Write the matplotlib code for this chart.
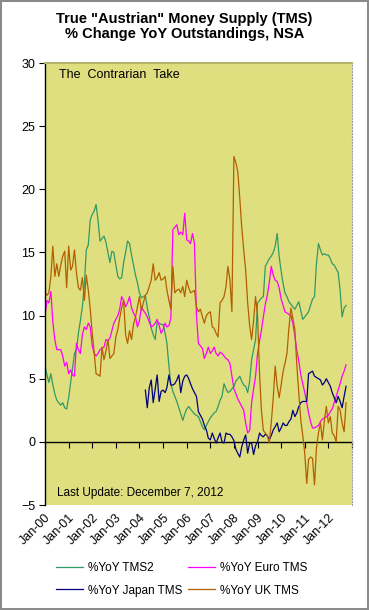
import numpy as np
import pandas as pd
import matplotlib
matplotlib.use('Agg')
import matplotlib.pyplot as plt
import matplotlib.dates as mdates
from matplotlib.patches import Rectangle

plt.rcParams['font.family'] = ['Liberation Sans', 'DejaVu Sans']

# monthly % change YoY, Jan 2000 - Oct 2012
start = '2000-01-01'
tms2 = [6.0, 5.3, 4.7, 5.4, 4.5, 3.8, 3.3, 3.1, 2.9, 3.1, 2.7, 2.6,
        3.5, 4.7, 5.8, 7.0, 7.3, 8.6, 9.6, 10.7, 12.5, 15.2, 15.6, 17.6,
        18.0, 18.3, 18.8, 17.5, 15.9, 16.1, 16.3, 15.8, 15.0, 14.2, 15.1, 15.0,
        14.0, 13.1, 12.9, 13.0, 14.2, 15.0, 15.9, 15.7, 14.8, 14.0, 13.2, 12.6,
        11.8, 11.4, 11.5, 11.6, 10.6, 9.9, 9.0, 8.5, 8.1, 9.5, 9.4, 9.3,
        9.3, 8.6, 7.8, 6.0, 4.6, 4.0, 3.6, 3.2, 2.7, 2.2, 1.7, 2.2,
        2.6, 2.8, 2.6, 2.4, 2.2, 2.1, 2.0, 1.6, 1.2, 0.95, 1.3, 1.6,
        1.9, 2.1, 2.3, 2.4, 2.8, 3.3, 3.6, 4.6, 4.2, 3.9, 4.0, 4.2,
        4.4, 4.8, 5.0, 5.2, 4.8, 4.5, 4.4, 3.9, 4.8, 6.5, 7.3, 8.1,
        11.0, 11.2, 11.4, 11.5, 13.9, 14.2, 14.5, 14.7, 15.0, 15.5, 16.5, 14.7,
        13.5, 12.5, 11.8, 11.5, 11.1, 10.9, 10.7, 10.5, 10.8, 11.1, 10.4, 9.7,
        9.9, 10.1, 10.3, 10.8, 11.3, 11.5, 14.1, 15.7, 15.2, 14.8, 14.9, 14.8,
        14.8, 14.5, 14.1, 14.0, 13.7, 13.4, 12.0, 9.9, 10.6, 10.8]

euro = [10.0, 11.2, 11.0, 11.9, 9.5, 8.1, 7.3, 7.3, 7.3, 6.8, 6.0, 6.3,
        5.4, 5.7, 5.3, 5.2, 7.8, 7.3, 7.0, 8.5, 9.1, 8.9, 9.4, 9.1,
        7.6, 7.0, 6.8, 7.0, 7.3, 7.4, 7.5, 8.1, 8.0, 8.2, 8.8, 9.4,
        9.7, 10.0, 10.5, 11.5, 11.2, 10.7, 11.0, 11.5, 10.6, 10.2, 9.9, 9.1,
        9.6, 10.7, 10.4, 10.2, 9.9, 9.5, 9.1, 9.2, 9.4, 9.7, 9.2, 8.6,
        8.9, 9.4, 9.1, 9.2, 9.8, 16.8, 17.0, 17.2, 16.4, 16.6, 16.4, 18.1,
        16.0, 15.9, 15.7, 16.5, 15.7, 10.0, 7.8, 7.6, 7.4, 6.6, 7.0, 7.5,
        7.0, 7.2, 7.5, 7.0, 6.8, 7.1, 7.0, 6.8, 6.6, 6.5, 6.2, 5.2,
        4.2, 3.8, 3.4, 3.1, 2.8, 2.5, 1.5, 0.7, 0.9, 3.1, 4.2, 5.2,
        7.0, 8.0, 8.8, 9.9, 10.9, 11.6, 12.6, 13.9, 13.2, 12.8, 12.7, 12.2,
        11.3, 10.8, 10.3, 10.2, 10.1, 10.0, 9.4, 8.4, 7.2, 6.4, 5.3, 4.6,
        3.9, 3.1, 2.3, 1.6, 1.1, 1.1, 1.2, 1.3, 1.6, 1.8, 1.9, 2.0,
        2.1, 2.4, 2.6, 3.1, 3.6, 4.1, 4.6, 5.2, 5.6, 6.1]

# Japan series starts in April 2004
japan_start = '2004-04-01'
japan = [4.1, 2.7, 4.3, 4.9, 3.1, 4.2, 5.3, 3.2, 4.0,
         4.1, 3.9, 4.3, 5.3, 4.5, 4.5, 4.6, 4.9, 5.3, 3.9, 4.8, 5.2,
         5.3, 5.0, 4.6, 4.2, 3.9, 3.6, 2.4, 2.1, 1.8, 1.3, 0.95, 0.3,
         0.15, 0.7, 0.3, -0.1, 0.3, 0.7, 0.0, -0.1, 0.7, 0.6, 0.6, 0.4,
         0.1, -0.6, -0.9, -1.2, -0.4, 0.15, 0.55, -0.9, -0.1, -0.1, -1.0, -0.3,
         0.0, 0.7, 0.5, 0.4, 0.6, 0.5, 0.15, 0.5, 0.95, 1.2, 1.5, 0.8,
         1.1, 1.5, 1.3, 1.3, 1.6, 1.8, 2.5, 2.0, 2.3, 2.8, 3.1, 3.2,
         3.2, 3.2, 5.4, 5.5, 5.6, 5.2, 5.1, 5.0, 4.9, 4.5, 4.7, 5.0,
         4.7, 4.4, 3.9, 3.5, 3.1, 3.6, 3.2, 2.7, 3.6, 4.4]

uk = [11.9, 11.6, 11.8, 13.1, 15.5, 13.1, 14.1, 13.1, 14.0, 14.7, 15.1, 12.2,
      15.5, 13.6, 13.9, 15.2, 13.4, 12.2, 12.0, 13.0, 11.2, 13.2, 12.0, 10.5,
      8.6, 7.0, 5.4, 5.3, 5.2, 7.5, 6.5, 7.2, 8.1, 6.6, 6.8, 7.0,
      8.3, 8.9, 9.8, 10.6, 11.2, 8.5, 7.8, 8.8, 8.1, 9.3, 9.9, 10.7,
      11.5, 10.4, 11.0, 11.6, 11.8, 12.3, 12.8, 14.1, 12.8, 13.0, 13.4, 12.8,
      12.9, 13.1, 12.0, 11.2, 10.5, 13.9, 11.8, 12.0, 12.1, 11.8, 12.3, 11.5,
      12.8, 12.2, 11.8, 11.9, 12.0, 10.7, 10.3, 10.5, 9.9, 9.4, 10.0, 10.2,
      10.3, 9.1, 9.0, 8.6, 8.3, 11.0, 11.2, 11.5, 12.3, 13.9, 12.8, 10.3,
      22.6, 22.1, 21.4, 19.3, 17.0, 15.2, 13.6, 11.0, 9.2, 8.1, 9.6, 11.5,
      10.0, 5.4, 2.5, 0.9, 0.7, 0.5, -0.1, 1.5, 3.5, 6.0, 4.4, 3.5,
      4.5, 5.6, 6.2, 7.0, 9.0, 10.6, 9.8, 8.9, 6.0, 3.9, 1.7, 0.5,
      -0.9, -3.3, -1.4, -1.2, -1.3, -3.4, -0.5, 0.7, 1.5, 0.15, 1.7, 2.8,
      1.5, 2.0, 0.7, 0.5, 0.0, 2.8, 2.5, 1.5, 0.8, 3.1]

dates = pd.date_range(start, periods=len(tms2), freq='MS')
japan_dates = pd.date_range(japan_start, periods=len(japan), freq='MS')
years = pd.date_range('2000-01-01', '2013-01-01', freq='YS')

fig = plt.figure(figsize=(3.69, 6.10), dpi=100)
fig.patches.append(Rectangle((0, 0), 1, 1, transform=fig.transFigure, fill=False,
                             edgecolor='#8a8a8a', lw=2.9))

fig.text(0.5, 1 - 12/610, 'True "Austrian" Money Supply (TMS)\n% Change YoY Outstandings, NSA',
         ha='center', va='top', fontsize=10.5, fontweight='bold', linespacing=1.05)

ax = fig.add_axes([45/369, 1 - 505/610, 307/369, 442/610])
ax.set_facecolor('#dfdf80')

l1, = ax.plot(dates, tms2, color='#339966', lw=0.9, label='%YoY TMS2')
l2, = ax.plot(dates, euro, color='#ff00ff', lw=0.9, label='%YoY Euro TMS')
l3, = ax.plot(japan_dates, japan, color='#000080', lw=0.9, label='%YoY Japan TMS')
l4, = ax.plot(dates, uk, color='#b35f00', lw=0.9, label='%YoY UK TMS')

ax.set_ylim(-5, 30)
ax.set_yticks(range(-5, 31, 5))
ax.set_xlim(years[0], years[-1])
ax.tick_params(axis='y', direction='out', length=4, width=0.8, pad=3, labelsize=9)

# date labels along the bottom, axis line with ticks at zero
ax.set_xticks(years[:-1])
ax.xaxis.set_major_formatter(mdates.DateFormatter('%b-%y'))
ax.tick_params(axis='x', length=0, pad=5, labelsize=9)
for lab in ax.get_xticklabels():
    lab.set_rotation(45)
    lab.set_ha('right')
    lab.set_rotation_mode('anchor')

zero = ax.secondary_xaxis(5/35)
zero.set_xticks(mdates.date2num(years))
zero.tick_params(axis='x', direction='out', length=4, width=0.8, labelbottom=False)
zero.spines['bottom'].set_linewidth(1.0)

ax.spines['bottom'].set_visible(False)
ax.spines['left'].set_linewidth(1.0)
ax.spines['top'].set_color('#b4b46a')
ax.spines['top'].set_linewidth(1.5)
ax.spines['right'].set_color('#a0a0a0')
ax.spines['right'].set_linestyle(':')

ax.text(14/307, (505 - 75)/442, 'The  Contrarian  Take', transform=ax.transAxes,
        fontsize=9, va='center', ha='left')
ax.text(12/307, (505 - 493)/442, 'Last Update: December 7, 2012', transform=ax.transAxes,
        fontsize=8.5, va='center', ha='left')

fig.legend([l1, l3, l2, l4], [l1.get_label(), l3.get_label(), l2.get_label(), l4.get_label()],
           ncol=2, loc='upper left', bbox_to_anchor=(56/369, 1 - 562/610), frameon=False,
           fontsize=8.5, handlelength=2.3, handletextpad=0.45, columnspacing=0.4,
           labelspacing=0.9, borderpad=0, borderaxespad=0)

fig.savefig('out.png', dpi=100)
